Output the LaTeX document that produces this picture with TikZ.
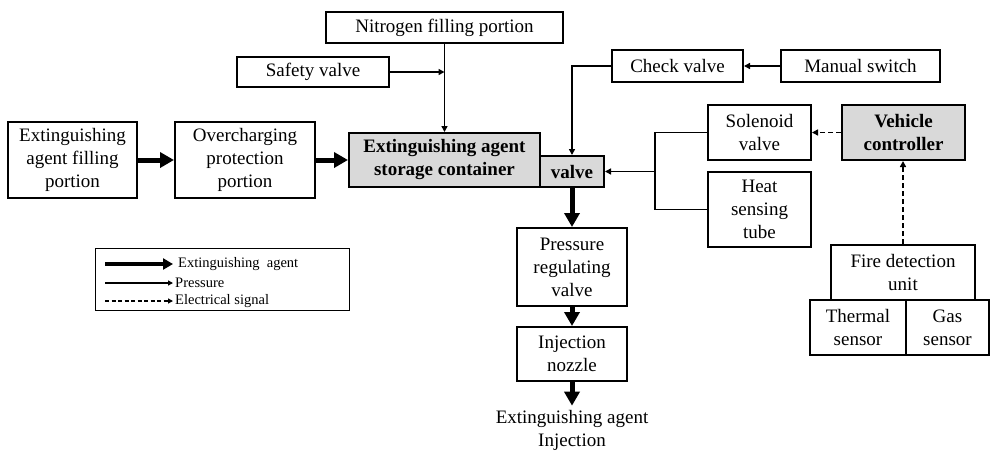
\documentclass[tikz,border=0pt]{standalone}
\usepackage{fontspec}
\setmainfont{Liberation Serif}
\usetikzlibrary{arrows.meta}
\definecolor{boxgray}{RGB}{217,217,217}
\begin{document}
\begin{tikzpicture}[x=1pt,y=-1pt,
  box/.style={draw, line width=2pt, inner sep=0pt, align=center,
    font=\fontsize{19}{23}\selectfont},
  gbox/.style={box, fill=boxgray, font=\fontsize{19}{23}\selectfont\bfseries},
  flow/.style={line width=5pt, -{Triangle[length=14pt,width=15pt]}},
  prs/.style={line width=1.7pt, -{Triangle[length=6pt,width=6pt]}},
  sig/.style={line width=1.8pt, dash pattern=on 5pt off 3pt, -{Triangle[length=6pt,width=6pt]}},
  plain/.style={line width=1.7pt},
  legtext/.style={anchor=west, inner sep=0pt, font=\fontsize{14.5}{16}\selectfont}]
\useasboundingbox (0,0) rectangle (990,450);

% top row
\node[box, minimum width=237, minimum height=31] (nitro) at (444.5,27.5) {Nitrogen filling portion};
\node[box, minimum width=152, minimum height=30] (safety) at (313,72) {Safety valve};
\node[box, minimum width=131, minimum height=32] (check) at (677.5,66) {Check valve};
\node[box, minimum width=159, minimum height=32] (manual) at (860.5,66) {Manual switch};

% main row
\node[box, minimum width=129, minimum height=76] (eafp) at (72.5,160) {Extinguishing\\agent filling\\portion};
\node[box, minimum width=140, minimum height=76] (opp) at (245,160) {Overcharging\\protection\\portion};
\node[gbox, minimum width=191, minimum height=54] (cont) at (444.5,160) {Extinguishing agent\\storage container};
\node[gbox, minimum width=64, minimum height=31] (valve) at (572,171.5) {valve};

% right side
\node[box, minimum width=103, minimum height=55] (sol) at (759.5,132.5) {Solenoid\\valve};
\node[box, minimum width=103, minimum height=75] (heat) at (759.5,209.5) {Heat\\sensing\\tube};
\node[gbox, minimum width=123, minimum height=55] (veh) at (903.5,132.5) {Vehicle\\controller};
\node[box, minimum width=144, minimum height=55] (fire) at (903,272.5) {Fire detection\\unit};
\node[box, minimum width=96, minimum height=55] (therm) at (858,327.5) {Thermal\\sensor};
\node[box, minimum width=83, minimum height=55] (gas) at (947.5,327.5) {Gas\\sensor};

% lower chain
\node[box, minimum width=110, minimum height=78] (prv) at (572,267) {Pressure\\regulating\\valve};
\node[box, minimum width=110, minimum height=54] (inj) at (572,354) {Injection\\nozzle};
\node[align=center, inner sep=4pt, font=\fontsize{19}{23}\selectfont] (out) at (572,430) {Extinguishing agent\\Injection};

% connectors
\coordinate (sj) at (444.5,72);
\coordinate (bus) at (655,171.5);
\draw[prs] (nitro.south) -- (cont.north);
\draw[prs] (safety.east) -- (sj);
\draw[prs] (manual.west) -- (check.east);
\draw[prs] (check.west) -| (valve.north);
\draw[plain] (sol.west) -| (bus) |- (heat.west);
\draw[prs] (bus) -- (valve.east);
\draw[sig] (veh.west) -- (sol.east);
\draw[sig] (fire.north) -- (veh.south -| fire.north);

\draw[flow] (eafp.east) -- (opp.west);
\draw[flow] (opp.east) -- (cont.west);
\draw[flow] (valve.south) -- (prv.north);
\draw[flow] (prv.south) -- (inj.north);
\draw[flow] (inj.south) -- (out.north);

% legend
\node[draw, line width=1pt, minimum width=254, minimum height=62, inner sep=0pt] (leg) at (222,279) {};
\coordinate (l1a) at (105,264); \coordinate (l1b) at (173,264);
\coordinate (l2a) at (105,283); \coordinate (l2b) at (173,283);
\coordinate (l3a) at (105,301); \coordinate (l3b) at (173,301);
\draw[line width=4pt, -{Triangle[length=10pt,width=11pt]}] (l1a) -- (l1b);
\draw[line width=1.4pt, -{Triangle[length=5pt,width=5pt]}] (l2a) -- (l2b);
\draw[line width=1.4pt, dash pattern=on 4pt off 2.5pt, -{Triangle[length=5pt,width=5pt]}] (l3a) -- (l3b);
\node[legtext] (t1) at (178,264) {Extinguishing\ \ agent};
\node[legtext] (t2) at (175,283) {Pressure};
\node[legtext] (t3) at (175,301) {Electrical signal};
\end{tikzpicture}
\end{document}
